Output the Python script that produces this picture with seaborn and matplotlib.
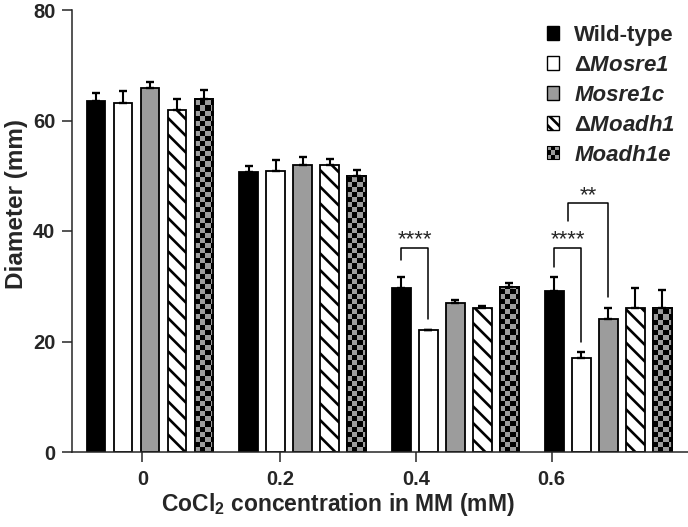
import numpy as np
import pandas as pd
import seaborn as sns
import matplotlib.pyplot as plt
from matplotlib.patches import Patch, Rectangle
from matplotlib.colors import ListedColormap
from matplotlib.legend_handler import HandlerBase

# Datos
concentrations = ["0", "0.2", "0.4", "0.6"]
strains = ["Wild-type", "ΔMosre1", "Mosre1c", "ΔMoadh1", "Moadh1e"]

wild_type = [63.6, 50.7, 29.7, 29.2]
mosre1 = [63.2, 50.9, 22.0, 17.0]
mosre1c = [65.9, 51.9, 27.0, 24.0]
moadh1 = [61.9, 52.0, 26.0, 26.0]
moadh1e = [63.9, 50.0, 29.9, 26.0]

wild_type_err = [1.4, 1.1, 2.0, 2.5]
mosre1_err = [2.2, 1.9, 0.0, 1.1]
mosre1c_err = [1.0, 1.5, 0.5, 2.0]
moadh1_err = [2.0, 1.0, 0.4, 3.6]
moadh1e_err = [1.6, 1.0, 0.6, 3.3]

tick_labels = ["0", "0.2", "0.4", "0.6"]
tick_pos = [-0.05, 0.85, 1.74, 2.63]

# (grupo, barra izq, barra der, altura, pata izq, pata der, texto)
brackets = [
    (2, 0, 1, 37.0, 34.8, 24.1, "****"),
    (3, 0, 1, 37.0, 33.5, 20.0, "****"),
    (3, 0.5, 2, 45.0, 41.8, 28.1, "**"),
]

means = [wild_type, mosre1, mosre1c, moadh1, moadh1e]
errs = [wild_type_err, mosre1_err, mosre1c_err, moadh1_err, moadh1e_err]

df = pd.DataFrame({
    "conc": np.tile(concentrations, len(strains)),
    "strain": np.repeat(strains, len(concentrations)),
    "diameter": np.concatenate(means),
})

grey = "#9c9c9c"
palette = dict(zip(strains, ["black", "white", grey, "white", grey]))

sns.set_style("ticks")
plt.rcParams["font.family"] = ["Liberation Sans", "DejaVu Sans"]
plt.rcParams["font.weight"] = "bold"
plt.rcParams["mathtext.fontset"] = "custom"
plt.rcParams["mathtext.rm"] = "Liberation Sans:bold"
plt.rcParams["mathtext.bf"] = "Liberation Sans:bold"
plt.rcParams["hatch.linewidth"] = 1.9
plt.rcParams["hatch.color"] = "black"

fig = plt.figure(figsize=(6.88, 5.27), dpi=100)
ax = fig.add_axes([72 / 688, 75 / 527, 616 / 688, 442 / 527])

sns.barplot(data=df, x="conc", y="diameter", hue="strain", order=concentrations,
            hue_order=strains, palette=palette, saturation=1, edgecolor="black",
            linewidth=1.3, width=0.884, gap=0.3, errorbar=None, legend=False, ax=ax)

bar_conts = list(ax.containers)

# relleno de cada serie
for k, cont in enumerate(bar_conts):
    xs = np.array([b.get_x() + b.get_width() / 2 for b in cont])
    hs = np.array([b.get_height() for b in cont])
    for b in cont:
        b.set_zorder(1)
        if k == 3:
            b.set_hatch("\\\\")
        if k == 4:
            x0, w, h = b.get_x(), b.get_width(), b.get_height()
            sqx, sqy = 0.034, 0.92
            nx, ny = int(np.ceil(w / sqx)), int(np.ceil(h / sqy))
            pattern = np.indices((ny, nx)).sum(axis=0) % 2
            im = ax.imshow(pattern, cmap=ListedColormap([grey, "black"]),
                           extent=(x0, x0 + nx * sqx, 0, ny * sqy), origin="lower",
                           aspect="auto", interpolation="nearest", zorder=1.1)
            im.set_clip_path(b)
            ax.add_patch(Rectangle((x0, 0), w, h, fill=False, edgecolor="black",
                                   linewidth=1.3, zorder=1.2))
    e = np.array(errs[k])
    ax.errorbar(xs, hs, yerr=[np.zeros_like(e), e], fmt="none", ecolor="black",
                elinewidth=1.5, capsize=3, capthick=1.7, zorder=3)

# corchetes de significancia
def bar_x(group, idx):
    lo = int(np.floor(idx))
    hi = int(np.ceil(idx))
    b1, b2 = bar_conts[lo][group], bar_conts[hi][group]
    c1 = b1.get_x() + b1.get_width() / 2
    c2 = b2.get_x() + b2.get_width() / 2
    return (c1 + c2) / 2

for g, a, b, y, l, r, txt in brackets:
    x1, x2 = bar_x(g, a), bar_x(g, b)
    ax.plot([x1, x1, x2, x2], [l, y, y, r], color="black", lw=1.1, zorder=4)
    ax.text((x1 + x2) / 2, y + 0.4, txt, ha="center", va="baseline",
            fontsize=16, fontweight="normal")

ax.set_xlim(-0.511, 3.523)
ax.set_ylim(0, 80)
ax.set_yticks([0, 20, 40, 60, 80])
ax.set_xticks(tick_pos)
ax.set_xticklabels(tick_labels)
ax.tick_params(axis="both", labelsize=14.5, length=7, width=1.1)
ax.tick_params(axis="y", pad=5)
ax.tick_params(axis="x", pad=6)
for s in ["top", "right"]:
    ax.spines[s].set_visible(False)
for s in ["left", "bottom"]:
    ax.spines[s].set_linewidth(1.1)

ax.set_ylabel("Diameter (mm)", fontsize=17.5, fontweight="bold")
ax.yaxis.set_label_coords(-0.09, 0.56)
ax.yaxis.label.set_verticalalignment("center")
ax.set_xlabel(r"CoCl$_\mathbf{2}$ concentration in MM (mM)", fontsize=16.5, fontweight="bold")
ax.xaxis.set_label_coords(0.432, -0.088)


class HandlerChecker(HandlerBase):
    def create_artists(self, legend, orig_handle, xdescent, ydescent, width, height, fontsize, trans):
        out = []
        n = 3
        for i in range(n):
            for j in range(n):
                c = "black" if (i + j) % 2 else grey
                out.append(Rectangle((-xdescent + i * width / n, -ydescent + j * height / n),
                                     width / n, height / n, facecolor=c, edgecolor="none",
                                     transform=trans))
        out.append(Rectangle((-xdescent, -ydescent), width, height, fill=False,
                             edgecolor="black", lw=0.8, transform=trans))
        return out


checker = Patch(facecolor=grey)
handles = [
    Patch(facecolor="black", edgecolor="black"),
    Patch(facecolor="white", edgecolor="black"),
    Patch(facecolor=grey, edgecolor="black"),
    Patch(facecolor="white", edgecolor="black", hatch="\\\\\\"),
    checker,
]
labels = [s.replace("Δ", r"$\mathbf{\Delta}$") for s in strains]
leg = ax.legend(handles, labels, handler_map={checker: HandlerChecker()},
                loc="upper left", bbox_to_anchor=(547 / 688, 1 - 25 / 527),
                bbox_transform=fig.transFigure, frameon=False, borderpad=0,
                borderaxespad=0, handlelength=0.55, handleheight=0.55,
                handletextpad=0.68, labelspacing=0.4,
                prop={"weight": "bold", "size": 16})
for t in leg.get_texts()[1:]:
    t.set_fontstyle("italic")

plt.savefig("out.png", dpi=100)
